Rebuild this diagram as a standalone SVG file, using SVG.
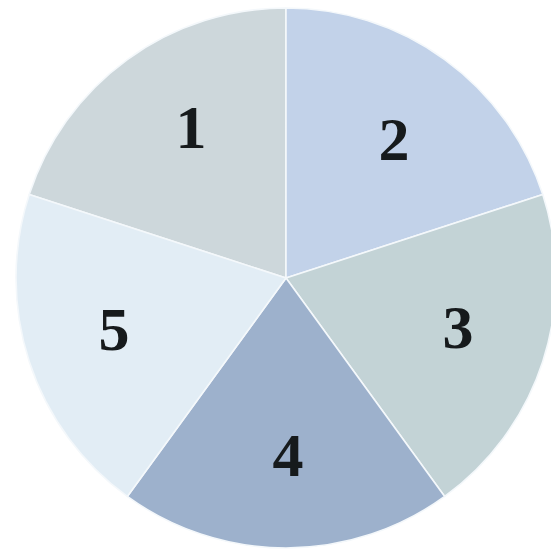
<svg xmlns="http://www.w3.org/2000/svg" width="551" height="550" viewBox="0 0 551 550">
<style>
.seg{stroke:#f4f8fb;stroke-width:1.6;stroke-linejoin:round}
.lbl{font-family:"Liberation Serif","Times New Roman",serif;font-weight:bold;font-size:62px;fill:#161a1c;text-anchor:middle}
</style>
<rect width="551" height="550" fill="#ffffff"/>
<g id="slice1"><path class="seg" fill="#cdd7db" d="M286 278 L29.21 194.56 A270 270 0 0 1 286 8 Z"/><text class="lbl" x="191" y="148">1</text></g>
<g id="slice2"><path class="seg" fill="#c2d2e9" d="M286 278 L286 8 A270 270 0 0 1 542.79 194.56 Z"/><text class="lbl" x="394" y="160">2</text></g>
<g id="slice3"><path class="seg" fill="#c3d3d6" d="M286 278 L542.79 194.56 A270 270 0 0 1 444.70 496.43 Z"/><text class="lbl" x="458" y="348">3</text></g>
<g id="slice4"><path class="seg" fill="#9db1cc" d="M286 278 L444.70 496.43 A270 270 0 0 1 127.30 496.43 Z"/><text class="lbl" x="288" y="476">4</text></g>
<g id="slice5"><path class="seg" fill="#e2edf5" d="M286 278 L127.30 496.43 A270 270 0 0 1 29.21 194.56 Z"/><text class="lbl" x="114" y="350">5</text></g>
</svg>
